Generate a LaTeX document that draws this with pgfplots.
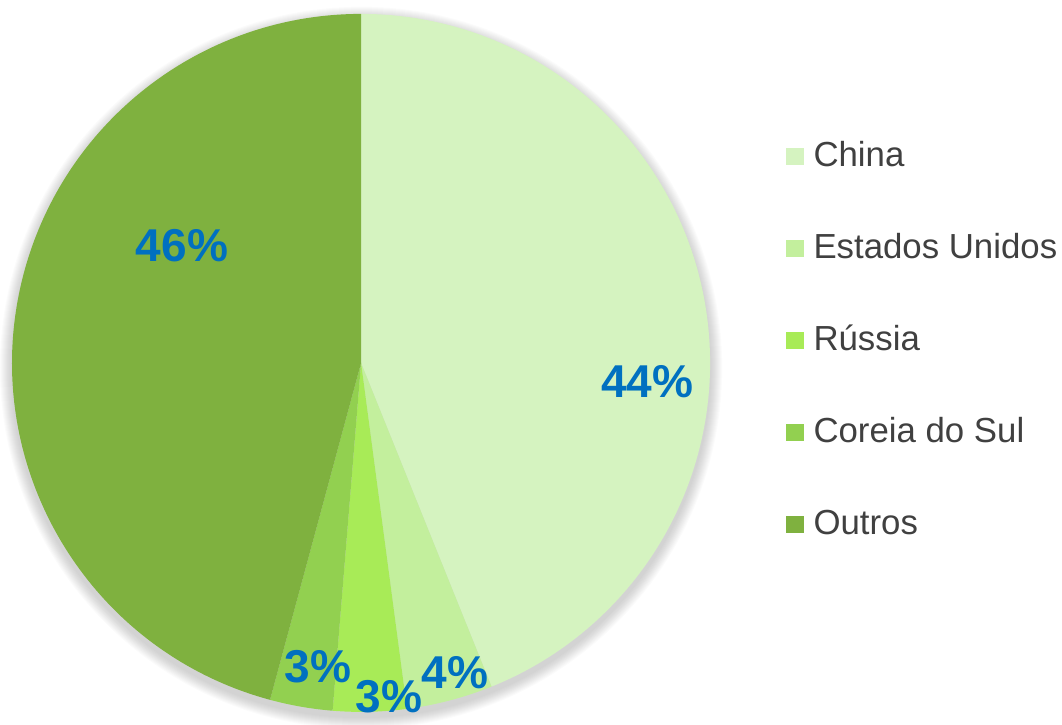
\documentclass[border=0pt]{standalone}
\usepackage{fontspec}
\setmainfont{Liberation Sans}
\usepackage{pgfplots}
\usepackage{pgfplotstable}
\pgfplotsset{compat=1.18}
\definecolor{cChina}{HTML}{D5F3C0}
\definecolor{cEUA}{HTML}{C3EF9D}
\definecolor{cRus}{HTML}{A8EB57}
\definecolor{cCor}{HTML}{92D050}
\definecolor{cOut}{HTML}{7FB13F}
\definecolor{lblue}{HTML}{0070C0}
\definecolor{ltext}{HTML}{404040}
\newcommand\lblfont{\fontsize{26.2}{30}\selectfont\bfseries}
\newcommand\legfont{\fontsize{19.8}{23}\selectfont}

% value in %, slice colour, label position (px, from bottom left)
\pgfplotstableread[col sep=comma]{
label,value,col,lx,ly
China,43.9,cChina,647,327
Estados Unidos,4.0,cEUA,455,36
Rússia,3.4,cRus,389,12
Coreia do Sul,2.9,cCor,318,42
Outros,45.8,cOut,182,463
}\piedata

\begin{document}
\begin{tikzpicture}
\useasboundingbox (0,0) rectangle (21.24cm,14.5cm);
\begin{axis}[x=0.02cm, y=0.02cm, xmin=0, xmax=1062, ymin=0, ymax=725,
  hide axis, clip=false, at={(0,0)}, anchor=south west]
% soft shadow
\pgfplotsforeachungrouped \k in {1,...,12}{%
  \pgfmathsetmacro\shr{(349+\k)*0.02}%
  \edef\cmd{\noexpand\fill[black, opacity=0.016] (axis cs:361,357) circle[radius=\shr cm];}%
  \cmd
}
\def\cum{0}
\pgfplotsforeachungrouped \i in {0,...,4}{%
  \pgfplotstablegetelem{\i}{value}\of\piedata \let\sliceval\pgfplotsretval
  \pgfplotstablegetelem{\i}{col}\of\piedata \let\slicecol\pgfplotsretval
  \pgfmathsetmacro\angA{90-3.6*\cum}%
  \pgfmathsetmacro\cum{\cum+\sliceval}%
  \pgfmathsetmacro\angB{90-3.6*\cum}%
  \edef\cmd{\noexpand\fill[\slicecol] (axis cs:361,362) -- ++(\angA:6.98cm) arc[start angle=\angA, end angle=\angB, radius=6.98cm] -- cycle;}%
  \cmd
}
\pgfplotsforeachungrouped \i in {0,...,4}{%
  \pgfplotstablegetelem{\i}{value}\of\piedata \let\sliceval\pgfplotsretval
  \pgfplotstablegetelem{\i}{lx}\of\piedata \let\lblx\pgfplotsretval
  \pgfplotstablegetelem{\i}{ly}\of\piedata \let\lbly\pgfplotsretval
  \pgfplotstablegetelem{\i}{label}\of\piedata \let\lab\pgfplotsretval
  \pgfplotstablegetelem{\i}{col}\of\piedata \let\slicecol\pgfplotsretval
  \pgfmathtruncatemacro\pct{round(\sliceval)}%
  \pgfmathtruncatemacro\sqy{560-92*\i}%
  \pgfmathtruncatemacro\sqyt{577-92*\i}%
  \pgfmathtruncatemacro\basey{558-92*\i}%
  \edef\cmd{\noexpand\node[anchor=base, text=lblue, font=\noexpand\lblfont, inner sep=0pt] at (axis cs:\lblx,\lbly) {\pct\noexpand\%};
    \noexpand\fill[\slicecol] (axis cs:786,\sqy) rectangle (axis cs:804,\sqyt);
    \noexpand\node[anchor=base west, text=ltext, font=\noexpand\legfont, inner sep=0pt] at (axis cs:813,\basey) {\lab};}%
  \cmd
}
\end{axis}
\end{tikzpicture}
\end{document}
